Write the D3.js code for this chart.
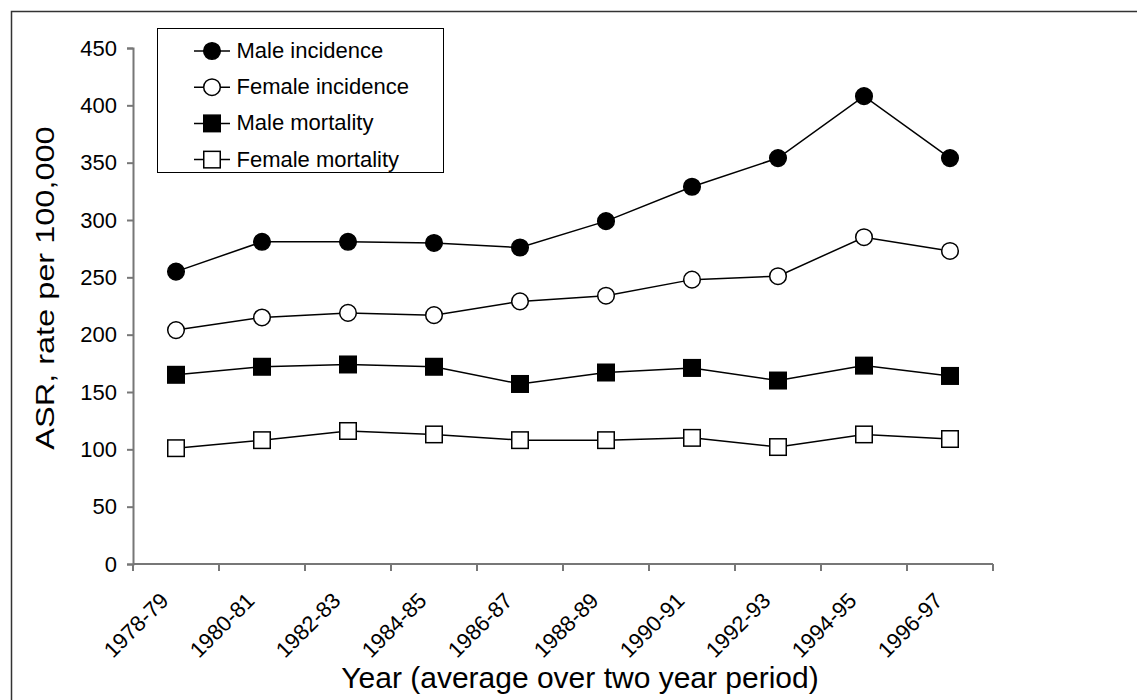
<!DOCTYPE html>
<html>
<head>
<meta charset="utf-8">
<script src="https://cdn.jsdelivr.net/npm/d3@7"></script>
<style>
html,body{margin:0;padding:0;background:#fff;}
text{font-family:"Liberation Sans",Arial,sans-serif;fill:#000;}
</style>
</head>
<body>
<svg id="chart" width="1137" height="700"></svg>
<script>
const categories = ["1978-79","1980-81","1982-83","1984-85","1986-87","1988-89","1990-91","1992-93","1994-95","1996-97"];
const maleIncidence   = [255, 281, 281, 280, 276, 299, 329, 354, 408, 354];
const femaleIncidence = [204, 215, 219, 217, 229, 234, 248, 251, 285, 273];
const maleMortality   = [165, 172, 174, 172, 157, 167, 171, 160, 173, 164];
const femaleMortality = [101, 108, 116, 113, 108, 108, 110, 102, 113, 109];
const yTicks = [0, 50, 100, 150, 200, 250, 300, 350, 400, 450];
const seriesNames = ["Male incidence","Female incidence","Male mortality","Female mortality"];

(function(){
const series = [
  {name: seriesNames[0], values: maleIncidence,   shape: "circle", fill: "#000"},
  {name: seriesNames[1], values: femaleIncidence, shape: "circle", fill: "#fff"},
  {name: seriesNames[2], values: maleMortality,   shape: "square", fill: "#000"},
  {name: seriesNames[3], values: femaleMortality, shape: "square", fill: "#fff"}
];

const svg = d3.select("#chart");

// outer frame (top & left visible, extends beyond canvas)
svg.append("rect").attr("x", 11.5).attr("y", 11.5).attr("width", 1200).attr("height", 800)
  .attr("fill", "none").attr("stroke", "#333").attr("stroke-width", 1.5);

const mLeft = 133, mRight = 993, mTop = 48, mBottom = 564;
const x = d3.scaleBand().domain(categories).range([mLeft, mRight]).padding(0);
const y = d3.scaleLinear().domain([0, 450]).range([mBottom, mTop]);

const axisColor = "#777";

// Y axis
const gy = svg.append("g").attr("transform", `translate(${mLeft},0)`)
  .call(d3.axisLeft(y).tickValues(yTicks).tickSize(6).tickPadding(10).tickFormat(d3.format("d")));
gy.select(".domain").attr("stroke", axisColor).attr("stroke-width", 2);
gy.selectAll(".tick line").attr("stroke", axisColor).attr("stroke-width", 2);
gy.selectAll(".tick text").attr("font-size", 22).attr("font-family", "Liberation Sans, Arial, sans-serif").attr("fill", "#000");

// X axis: domain line + ticks at band boundaries
const gx = svg.append("g");
gx.append("line").attr("x1", mLeft).attr("x2", mRight).attr("y1", mBottom).attr("y2", mBottom)
  .attr("stroke", axisColor).attr("stroke-width", 2);
const boundaries = categories.map(c => x(c)).concat([x(categories[categories.length-1]) + x.bandwidth()]);
gx.selectAll("line.tk").data(boundaries).enter().append("line").attr("class","tk")
  .attr("x1", d => d).attr("x2", d => d).attr("y1", mBottom).attr("y2", mBottom + 7)
  .attr("stroke", axisColor).attr("stroke-width", 2);
gx.selectAll("text.lbl").data(categories).enter().append("text").attr("class","lbl")
  .attr("transform", d => `translate(${x(d) + x.bandwidth()/2 - 6},${mBottom + 38}) rotate(-45)`)
  .attr("text-anchor", "end").attr("font-size", 22).text(d => d);

// axis titles
svg.append("text").attr("x", 580).attr("y", 688).attr("text-anchor", "middle")
  .attr("font-size", 30).text("Year (average over two year period)");
svg.append("text").attr("transform", "translate(53.5,288) rotate(-90) scale(1.25,1)").attr("text-anchor", "middle")
  .attr("font-size", 26).text("ASR, rate per 100,000");

// lines
const line = d3.line().x((d, i) => x(categories[i]) + x.bandwidth()/2).y(d => y(d));
const r = 8.3, s = 16.5;
function drawMarker(g, shape, fill, cx, cy) {
  if (shape === "circle") {
    g.append("circle").attr("cx", cx).attr("cy", cy).attr("r", r)
      .attr("fill", fill).attr("stroke", "#000").attr("stroke-width", 1.5);
  } else {
    g.append("rect").attr("x", cx - s/2).attr("y", cy - s/2).attr("width", s).attr("height", s)
      .attr("fill", fill).attr("stroke", "#000").attr("stroke-width", 1.5);
  }
}
series.forEach(se => {
  svg.append("path").datum(se.values).attr("d", line)
    .attr("fill", "none").attr("stroke", "#000").attr("stroke-width", 1.5);
  const g = svg.append("g");
  se.values.forEach((v, i) => drawMarker(g, se.shape, se.fill, x(categories[i]) + x.bandwidth()/2, y(v)));
});

// legend
const lg = svg.append("g");
lg.append("rect").attr("x", 157.5).attr("y", 28.5).attr("width", 286).attr("height", 144)
  .attr("fill", "#fff").attr("stroke", "#000").attr("stroke-width", 1);
series.forEach((se, i) => {
  const cy = 51 + i * 36.2;
  lg.append("line").attr("x1", 194).attr("x2", 230).attr("y1", cy).attr("y2", cy)
    .attr("stroke", "#000").attr("stroke-width", 1.5);
  drawMarker(lg, se.shape, se.fill, 212, cy);
  lg.append("text").attr("x", 236.5).attr("y", cy + 7).attr("font-size", 22).text(se.name);
});
})();
</script>
</body>
</html>
